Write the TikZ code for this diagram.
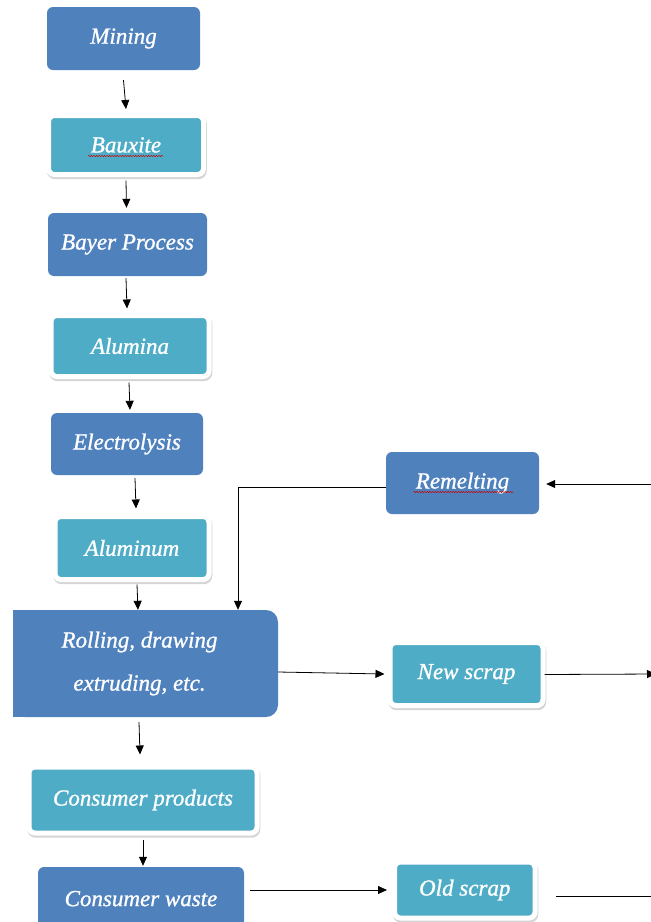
\documentclass[tikz,border=0pt]{standalone}
\usepackage{fontspec}
\setmainfont{Liberation Serif}
\newfontfamily\boxfont{Liberation Serif}[FakeBold=1.0]
\usetikzlibrary{arrows.meta,shadows,decorations.pathmorphing}
\definecolor{darkbox}{HTML}{4F81BD}
\definecolor{lightbox}{HTML}{4FACC6}
\begin{document}
\begin{tikzpicture}[x=1pt,y=-1pt,
  boxtext/.style={text=white,font=\boxfont\fontsize{23}{27}\selectfont\itshape,inner sep=0pt},
  darkstep/.style={boxtext,rectangle,rounded corners=6pt,fill=darkbox},
  lightstep/.style={boxtext,rectangle,rounded corners=6pt,fill=lightbox,draw=white,line width=5pt,
     drop shadow={shadow xshift=0.8pt,shadow yshift=-2.2pt,fill=black!30,draw=black!30,line width=5pt,opacity=0.55}},
  arr/.style={-{Triangle[width=8pt,length=9pt]},line width=0.8pt,black},
  plain/.style={line width=0.8pt,black},
  squig/.style={red!80!black,line width=0.5pt,decorate,decoration={snake,amplitude=0.6pt,segment length=2.6pt}}]
\useasboundingbox (0,0) rectangle (651,922);

\node[darkstep,minimum width=153pt,minimum height=63pt] (mining) at (123.5,38.5) {Mining};
\node[lightstep,minimum width=155pt,minimum height=59pt] (bauxite) at (126,145) {Bauxite};
\node[darkstep,minimum width=159pt,minimum height=63pt] (bayer) at (127.5,244.5) {Bayer Process};
\node[lightstep,minimum width=158pt,minimum height=61pt] (alumina) at (130,346) {Alumina};
\node[darkstep,minimum width=152pt,minimum height=62pt] (electro) at (127,444) {Electrolysis};
\node[lightstep,minimum width=154pt,minimum height=63pt] (alum) at (132,548) {Aluminum};
\fill[darkbox] (13,610) rectangle (40,717);
\node[darkstep,rounded corners=12pt,minimum width=265pt,minimum height=107pt,align=center] (rolling) at (145.5,663.5)
  {\hspace*{-12pt}Rolling, drawing\\[16pt]\hspace*{-12pt}extruding, etc.};
\node[darkstep,minimum width=153pt,minimum height=62pt] (remelt) at (462.5,483) {Remelting};
\node[lightstep,minimum width=153pt,minimum height=63pt] (newscrap) at (466.5,674) {New scrap};
\node[lightstep,minimum width=228pt,minimum height=66pt] (cprod) at (143,800) {Consumer products};
\node[darkstep,minimum width=206pt,minimum height=70pt] (cwaste) at (141,902) {\raisebox{7pt}{Consumer waste}};
\node[lightstep,minimum width=140.5pt,minimum height=56pt] (oldscrap) at (464.75,890) {Old scrap};

\coordinate (rightin) at (651,484);
\coordinate (rightout) at (656,674);
\coordinate (rightold) at (651,896);

% spelling squiggles
\draw[squig] ([xshift=-38pt,yshift=-11pt]bauxite.center) -- ([xshift=37pt,yshift=-11pt]bauxite.center);
\draw[squig] ([xshift=-49pt,yshift=-9pt]remelt.center) -- ([xshift=51pt,yshift=-9pt]remelt.center);

% main chain
\draw[arr] ([yshift=-10pt]mining.south) -- ([yshift=4pt]bauxite.north);
\draw[arr] ([yshift=-3.5pt]bauxite.south) -- ([xshift=-1pt,yshift=5pt]bayer.north);
\draw[arr] ([xshift=-1.5pt,yshift=-2pt]bayer.south) -- ([xshift=-3pt,yshift=4.5pt]alumina.north);
\draw[arr] ([xshift=-1pt,yshift=-3.5pt]alumina.south) -- ([xshift=3pt,yshift=3pt]electro.north);
\draw[arr] ([xshift=8pt,yshift=-3pt]electro.south) -- ([xshift=4pt,yshift=5.5pt]alum.north);
\draw[arr] ([xshift=5pt,yshift=-2.5pt]alum.south) -- ([xshift=-7.5pt]rolling.north);
\draw[arr] ([xshift=-6.5pt,yshift=-5pt]rolling.south) -- ([xshift=-3pt,yshift=10pt]cprod.north);
\draw[arr] ([yshift=-4.5pt]cprod.south) -- ([yshift=1pt,xshift=2pt]cwaste.north);

% recycling loop
\draw[arr] ([yshift=-4pt]remelt.west) -| ([xshift=92.5pt]rolling.north);
\draw[arr] (rightin) -- ([xshift=7pt,yshift=-1pt]remelt.east);
\draw[arr] ([yshift=-8.5pt]rolling.east) -- ([xshift=-3pt]newscrap.west);
\draw[arr] ([xshift=-1pt,yshift=-0.5pt]newscrap.east) -- (rightout);
\draw[arr] ([xshift=6pt,yshift=12pt]cwaste.east) -- ([xshift=-5pt]oldscrap.west);
\draw[plain] ([xshift=18pt,yshift=-6pt]oldscrap.east) -- (rightold);
\end{tikzpicture}
\end{document}
